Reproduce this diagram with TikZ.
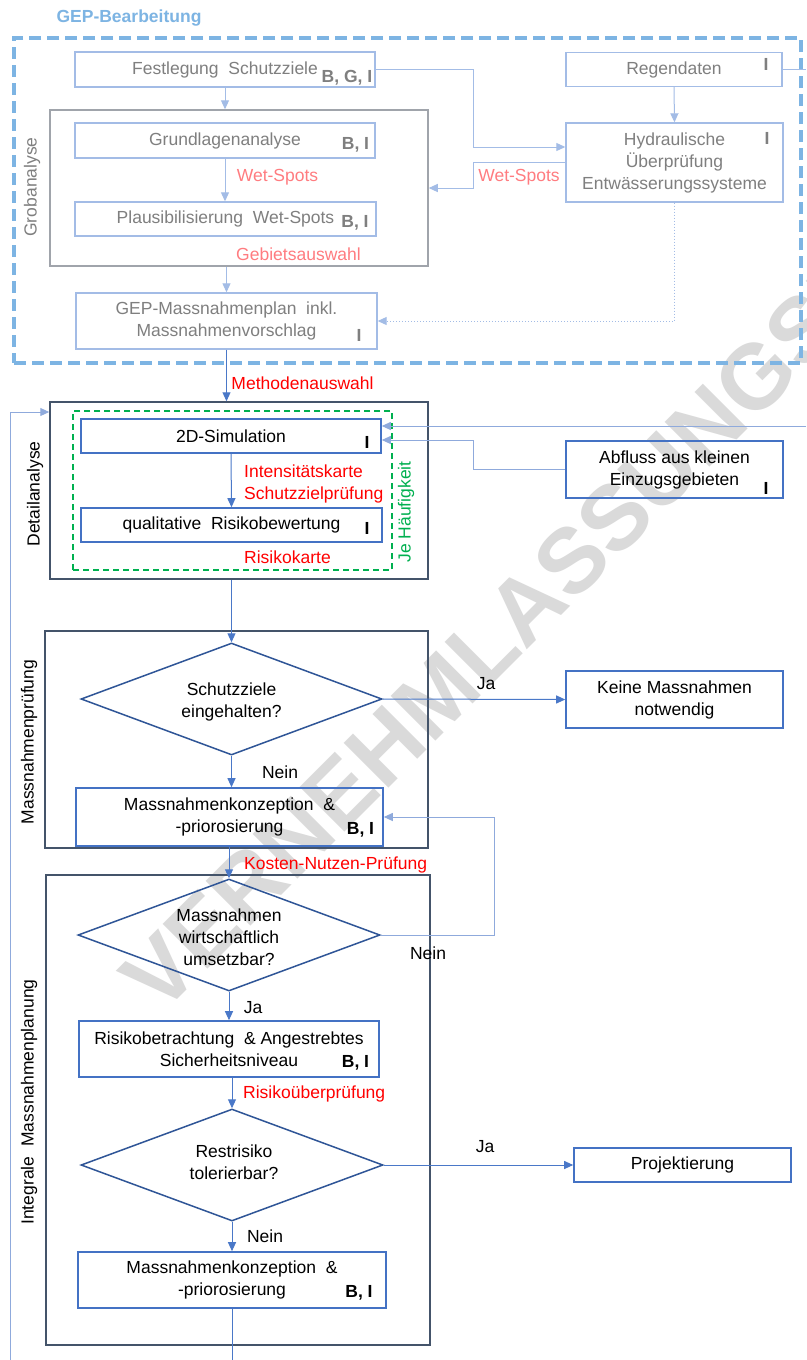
\documentclass[tikz,border=0pt]{standalone}
\usepackage{fontspec}
\setmainfont{Liberation Sans}
\usetikzlibrary{arrows.meta,shapes.geometric,calc}
\newcommand{\myfs}{\fontsize{17.5}{22}\selectfont}
\definecolor{fadeblue}{HTML}{A3BCE6}
\definecolor{fadegray}{HTML}{7F7F7F}
\definecolor{grobgray}{HTML}{A0A4AB}
\definecolor{pinkl}{HTML}{FF7C80}
\definecolor{dashblue}{HTML}{7DB4E3}
\definecolor{boxblue}{HTML}{4472C4}
\definecolor{lineblue}{HTML}{4A78C8}
\definecolor{loopblue}{HTML}{8FAADC}
\definecolor{framedark}{HTML}{44546A}
\definecolor{diablue}{HTML}{2F5597}
\definecolor{redl}{HTML}{FF0000}
\definecolor{greenl}{HTML}{00B050}
\definecolor{wmgray}{HTML}{DADADA}
\begin{document}
\begin{tikzpicture}[x=1pt,y=-1pt,
  every node/.style={font=\myfs, inner sep=0pt},
  fbox/.style={draw=fadeblue, line width=1.4pt, rectangle, align=center, text=fadegray},
  bbox/.style={draw=boxblue, line width=1.6pt, rectangle, align=center, text=black},
  frame/.style={draw=framedark, line width=1.5pt, rectangle},
  dia/.style={draw=diablue, line width=1.5pt, diamond},
  ftag/.style={font=\myfs\bfseries, text=fadegray},
  btag/.style={font=\myfs\bfseries, text=black},
  farr/.style={draw=fadeblue, line width=1pt, -{Triangle[length=9pt,width=8pt]}},
  barr/.style={draw=lineblue, line width=1pt, -{Triangle[length=9pt,width=8pt]}},
  larr/.style={draw=loopblue, line width=1pt, -{Triangle[length=9pt,width=8pt]}},
  pinklab/.style={text=pinkl},
  redlab/.style={text=redl},
  side/.style={rotate=90}
]
\useasboundingbox (0,0) rectangle (806,1360);
\fill[white] (0,0) rectangle (806,1360);

% watermark
\begin{scope}
\clip (0,0) rectangle (806,1360);
\node[rotate=45, anchor=base west, font=\fontsize{92}{92}\selectfont\bfseries, text=wmgray] (wm) at (160,1017) {VERNEHMLASSUNGSENTWURF};
\end{scope}

% ---------- GEP-Bearbeitung ----------
\node[font=\myfs\bfseries, text=dashblue] (title) at (129,18) {GEP-Bearbeitung};
\node[draw=dashblue, line width=4pt, dash pattern=on 12pt off 6pt, minimum width=787pt, minimum height=325pt] (gep) at (407.5,200.5) {};

\node[fbox, minimum width=300pt, minimum height=35pt] (fest) at (225,69.5) {Festlegung\ \ Schutzziele};
\node[ftag] (festt) at (347,78) {B, G, I};
\node[fbox, minimum width=216pt, minimum height=34pt] (regen) at (674,69.5) {Regendaten};
\node[ftag] (regent) at (766,64) {I};

\node[draw=grobgray, line width=1.5pt, minimum width=378pt, minimum height=156pt] (grob) at (239,188) {};
\node[side, text=fadegray] (grobl) at (32,187) {Grobanalyse};
\node[fbox, minimum width=300pt, minimum height=35pt] (grund) at (225,140.5) {Grundlagenanalyse};
\node[ftag] (grundt) at (355.5,145) {B, I};
\node[fbox, minimum width=301pt, minimum height=34pt] (plaus) at (225.5,219) {Plausibilisierung\ \ Wet-Spots};
\node[ftag] (plaust) at (355,223) {B, I};
\node[pinklab] (ws1) at (277.5,177) {Wet-Spots};
\node[pinklab] (gebiet) at (298.5,254) {Gebietsauswahl};

\node[fbox, minimum width=217pt, minimum height=79pt] (hydr) at (674.5,162.5) {Hydraulische\\Überprüfung\\Entwässerungssysteme};
\node[ftag] (hydrt) at (767,138) {I};
\node[pinklab] (ws2) at (519,177) {Wet-Spots};

\node[fbox, minimum width=301pt, minimum height=56pt] (gepm) at (226.5,321) {GEP-Massnahmenplan\ \ inkl.\\Massnahmenvorschlag};
\node[ftag] (gepmt) at (359,335) {I};

\coordinate (j1) at (473,147);
\coordinate (j2) at (473,188);
\coordinate (regout) at (806,69.5);
\draw[farr] (fest.south) -- (fest.south |- grob.north);
\draw[farr] (regen.south) -- (hydr.north);
\draw[draw=fadeblue, line width=1pt] (regen.east) -- (regout);
\draw[farr] (fest.east) -| (j1) -- (j1 -| hydr.west);
\draw[farr] (hydr.west) -| (j2) -- (grob.east);
\draw[farr, dotted] (hydr.south) |- (gepm.east);
\draw[farr] (grund.south) -- (grund.south |- plaus.north);
\draw[farr] (gepm.north |- grob.south) -- (gepm.north);

% ---------- Detailanalyse ----------
\node[frame, minimum width=378pt, minimum height=177pt] (detail) at (239,490.5) {};
\node[side] (detaill) at (35,494) {Detailanalyse};
\node[draw=greenl, line width=1.2pt, dash pattern=on 6pt off 4pt, minimum width=319pt, minimum height=159pt] (green) at (232.5,490.5) {};
\node[side, text=greenl] (haeuf) at (406,512) {Je Häufigkeit};
\node[bbox, minimum width=300pt, minimum height=34pt] (sim) at (231,436) {2D-Simulation};
\node[btag] (simt) at (367,442) {I};
\node[bbox, minimum width=301pt, minimum height=34pt] (qual) at (231.5,525) {qualitative\ \ Risikobewertung};
\node[btag] (qualt) at (367,528) {I};
\node[redlab, anchor=west] (ik) at (244,471) {Intensitätskarte};
\node[redlab, anchor=west] (szp) at (244,495) {Schutzzielprüfung};
\node[redlab, anchor=west] (rk) at (244,557) {Risikokarte};
\node[bbox, minimum width=217pt, minimum height=57pt] (abfl) at (674.5,469.5) {Abfluss aus kleinen\\Einzugsgebieten};
\node[btag] (abflt) at (766,488) {I};
\node[redlab] (meth) at (302.5,383) {Methodenauswahl};

\draw[barr] (gepm.south) -- (gepm.south |- detail.north);
\draw[barr] (sim.south) -- (qual.north);
\coordinate (rin) at (806,426);
\draw[larr] (rin) -- (rin -| sim.east);
\coordinate (j3) at (473,440);
\draw[larr] (abfl.west) -| (j3) -- (j3 -| sim.east);
\coordinate (lb) at (10,1360);
\coordinate (lt) at (10,412);
\draw[larr] (lb) -- (lt) -- (lt -| detail.west);

% ---------- Massnahmenpruefung ----------
\node[frame, minimum width=383pt, minimum height=217pt] (mpruef) at (236.5,739.5) {};
\node[side] (mpruefl) at (29,742) {Massnahmenprüfung};
\node[dia, minimum width=301pt, minimum height=112pt] (d1) at (231.5,699) {};
\node[align=center] (d1t) at (231.5,702) {Schutzziele\\eingehalten?};
\node[bbox, minimum width=217pt, minimum height=57pt] (keine) at (674.5,699.5) {Keine Massnahmen\\notwendig};
\node[bbox, minimum width=307pt, minimum height=58pt] (mk1) at (229.5,817) {Massnahmenkonzeption\ \ \&\\-priorosierung};
\node[btag] (mk1t) at (360.5,830) {B, I};
\node (ja1) at (486,684) {Ja};
\node (nein1) at (280,772) {Nein};
\node[redlab, anchor=west] (knp) at (244,865) {Kosten-Nutzen-Prüfung};

\draw[barr] (d1.north |- detail.south) -- (d1.north);
\draw[barr] (d1.east) -- (keine.west);
\draw[barr] (d1.south) -- (d1.south |- mk1.north);

% ---------- Integrale Massnahmenplanung ----------
\node[frame, minimum width=384pt, minimum height=470pt] (integ) at (238,1110) {};
\node[side] (integl) at (29,1102) {Integrale\ \ Massnahmenplanung};
\node[dia, minimum width=302pt, minimum height=112pt] (d2) at (229,935) {};
\node[align=center] (d2t) at (229,937) {Massnahmen\\wirtschaftlich\\umsetzbar?};
\node[bbox, minimum width=300pt, minimum height=56pt] (risk) at (229,1049) {Risikobetrachtung\ \ \& Angestrebtes\\Sicherheitsniveau};
\node[btag] (riskt) at (355.5,1063) {B, I};
\node[dia, minimum width=302pt, minimum height=112pt] (d3) at (232,1165) {};
\node[align=center] (d3t) at (234,1162) {Restrisiko\\tolerierbar?};
\node[bbox, minimum width=217pt, minimum height=34pt] (proj) at (682.5,1165) {Projektierung};
\node[bbox, minimum width=308pt, minimum height=56pt] (mk2) at (232,1280) {Massnahmenkonzeption\ \ \&\\-priorosierung};
\node[btag] (mk2t) at (359,1293) {B, I};
\node (nein2) at (428,953) {Nein};
\node (ja2) at (253,1008) {Ja};
\node[redlab, anchor=west] (rue) at (243,1094) {Risikoüberprüfung};
\node (ja3) at (485,1147) {Ja};
\node (nein3) at (265,1236) {Nein};

\draw[barr] (mk1.south -| d2.north) -- (d2.north);
\coordinate (j4) at (494,817);
\draw[larr] (d2.east) -| (j4) -- (mk1.east);
\draw[barr] (d2.south) -- (d2.south |- risk.north);
\draw[barr] (d3.north |- risk.south) -- (d3.north);
\draw[barr] (d3.east) -- (proj.west);
\draw[barr] (d3.south) -- (d3.south |- mk2.north);
\coordinate (bot) at (232,1360);
\draw[draw=lineblue, line width=1pt] (mk2.south) -- (bot);
\end{tikzpicture}
\end{document}
